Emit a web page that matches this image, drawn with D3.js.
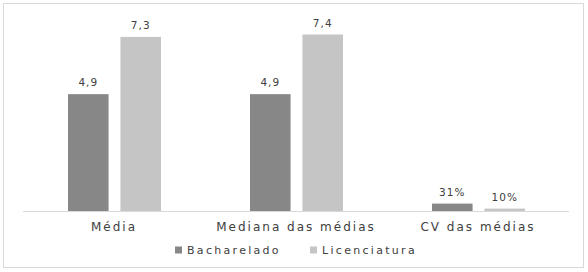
<!DOCTYPE html>
<html>
<head>
<meta charset="utf-8">
<script src="https://cdn.jsdelivr.net/npm/d3@7"></script>
<style>
  body { margin: 0; background: #fff; }
  text { font-family: "DejaVu Sans", sans-serif; fill: #404040; }
</style>
</head>
<body>
<div id="chart"></div>
<script>
// chart data
var categories = ["Média", "Mediana das médias", "CV das médias"];
var seriesNames = ["Bacharelado", "Licenciatura"];
var bacharelado = [4.9, 4.9, 0.31];
var licenciatura = [7.3, 7.4, 0.10];
var valueLabels = [["4,9", "4,9", "31%"], ["7,3", "7,4", "10%"]];
var colors = ["#878787", "#c5c5c5"];

var WIDTH = 588, HEIGHT = 272;
var svg = d3.select("#chart").append("svg")
    .attr("width", WIDTH)
    .attr("height", HEIGHT);

// outer frame
svg.append("rect")
    .attr("x", 3.5).attr("y", 3.5)
    .attr("width", 580).attr("height", 264)
    .attr("fill", "#fff")
    .attr("stroke", "#d9d9d9");

var left = 23, right = 569, base = 211;

var x = d3.scaleBand().domain(categories).range([left, right]);
// two bars of ~41px with a 12px gap, centred in each band
var xs = d3.scaleBand().domain([0, 1]).range([45, x.bandwidth() - 44])
    .paddingInner(12 / 53);
var y = d3.scaleLinear().domain([0, 8]).range([base, base - 8 * 23.85]);

var series = [bacharelado, licenciatura];

series.forEach(function(vals, s) {
  var g = svg.append("g");
  g.selectAll("rect")
    .data(vals)
    .enter()
    .append("rect")
    .attr("x", function(d, i) { return x(categories[i]) + xs(s); })
    .attr("y", function(d) { return y(d); })
    .attr("width", xs.bandwidth())
    .attr("height", function(d) { return base - y(d); })
    .attr("fill", colors[s]);

  g.selectAll("text")
    .data(vals)
    .enter()
    .append("text")
    .attr("x", function(d, i) { return x(categories[i]) + xs(s) + xs.bandwidth() / 2; })
    .attr("y", function(d) { return y(d) - 8; })
    .attr("text-anchor", "middle")
    .style("font-size", "10.5px")
    .style("letter-spacing", "1px")
    .text(function(d, i) { return valueLabels[s][i]; });
});

// baseline
svg.append("line")
    .attr("x1", left).attr("x2", right)
    .attr("y1", base + 0.5).attr("y2", base + 0.5)
    .attr("stroke", "#d9d9d9");

// category labels
svg.selectAll(".cat")
    .data(categories)
    .enter()
    .append("text")
    .attr("class", "cat")
    .attr("x", function(d) { return x(d) + x.bandwidth() / 2; })
    .attr("y", 231)
    .attr("text-anchor", "middle")
    .style("font-size", "12px")
    .style("letter-spacing", "2px")
    .text(function(d) { return d; });

// legend
var legendX = [175, 310];
var legend = svg.selectAll(".leg")
    .data(seriesNames)
    .enter()
    .append("g")
    .attr("class", "leg")
    .attr("transform", function(d, i) { return "translate(" + legendX[i] + ",250)"; });

legend.append("rect")
    .attr("x", 0).attr("y", -3.5)
    .attr("width", 7).attr("height", 7)
    .attr("fill", function(d, i) { return colors[i]; });

legend.append("text")
    .attr("x", 12).attr("y", 4)
    .style("font-size", "11px")
    .style("letter-spacing", "2.3px")
    .text(function(d) { return d; });
</script>
</body>
</html>
